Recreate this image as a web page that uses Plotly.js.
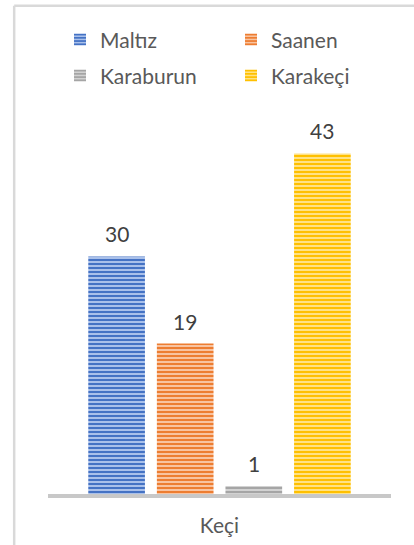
<!DOCTYPE html>
<html><head><meta charset="utf-8">
<script src="https://cdn.plot.ly/plotly-3.0.1.min.js"></script>
<style>html,body{margin:0;padding:0;background:#fff}#chart{width:414px;height:545px}</style>
</head><body><div id="chart"></div>
<script>
const category = ['Keçi'];
const seriesNames = ['Maltız', 'Saanen', 'Karaburun', 'Karakeçi'];
const maltiz = [30];
const saanen = [19];
const karaburun = [1];
const karakeci = [43];
const seriesValues = [maltiz, saanen, karaburun, karakeci];
const mainColors = ['#4472C4', '#ED7D31', '#A5A5A5', '#FFC000'];
const lightColors = ['#A9C0EA', '#F8C3A0', '#D2D2D2', '#FFE285'];
const legendOf = ['legend', 'legend', 'legend2', 'legend2'];

const FONT = 'Lato, "Open Sans", sans-serif';
const bargap = 0.2, bargroupgap = 0.174;
const n = seriesNames.length;
const slot = (1 - bargap) / n;

const traces = seriesNames.map((name, i) => ({
  type: 'bar', name: name, x: category, y: seriesValues[i],
  legend: legendOf[i],
  marker: {color: mainColors[i], line: {width: 0},
    pattern: {shape: '-', bgcolor: lightColors[i], fgcolor: mainColors[i], size: 4, solidity: 0.5}},
  hoverinfo: 'none'
}));

const annotations = [];
seriesNames.forEach((name, i) => {
  seriesValues[i].forEach((v, j) => {
    annotations.push({
      x: j - (1 - bargap) / 2 + slot * (i + 0.5), y: v, xref: 'x', yref: 'y',
      text: String(v), showarrow: false, yanchor: 'bottom', yshift: 8,
      font: {family: FONT, size: 21, color: '#404040'}
    });
  });
});

const layout = {
  width: 414, height: 545,
  margin: {l: 48, r: 21, t: 98, b: 51, pad: 0},
  paper_bgcolor: '#ffffff', plot_bgcolor: '#ffffff',
  barmode: 'group', bargap: bargap, bargroupgap: bargroupgap,
  font: {family: FONT, color: '#595959'},
  showlegend: true,
  legend: {orientation: 'h', x: 0.035, xanchor: 'left', y: 1.147, yanchor: 'middle',
    entrywidth: 126, font: {family: FONT, size: 21, color: '#595959'}, bgcolor: 'rgba(0,0,0,0)'},
  legend2: {orientation: 'h', x: 0.035, xanchor: 'left', y: 1.056, yanchor: 'middle',
    entrywidth: 126, font: {family: FONT, size: 21, color: '#595959'}, bgcolor: 'rgba(0,0,0,0)'},
  xaxis: {type: 'category', showline: true, linecolor: '#C8C8C8', linewidth: 4, ticks: '',
    ticklabelstandoff: 10,
    showgrid: false, zeroline: false, tickfont: {family: FONT, size: 21, color: '#595959'}},
  yaxis: {visible: false, range: [0, 50], showgrid: false, zeroline: false},
  annotations: annotations,
  shapes: [
    {type: 'line', xref: 'paper', yref: 'paper', x0: -0.0986, x1: -0.0986, y0: -0.2, y1: 1.233,
      line: {color: '#D9D9D9', width: 2.5}},
    {type: 'line', xref: 'paper', yref: 'paper', x0: -0.0986, x1: 1.2, y0: 1.233, y1: 1.233,
      line: {color: '#D9D9D9', width: 2.5}}
  ]
};

Plotly.newPlot('chart', traces, layout, {displayModeBar: false, staticPlot: true});
</script>
</body></html>
